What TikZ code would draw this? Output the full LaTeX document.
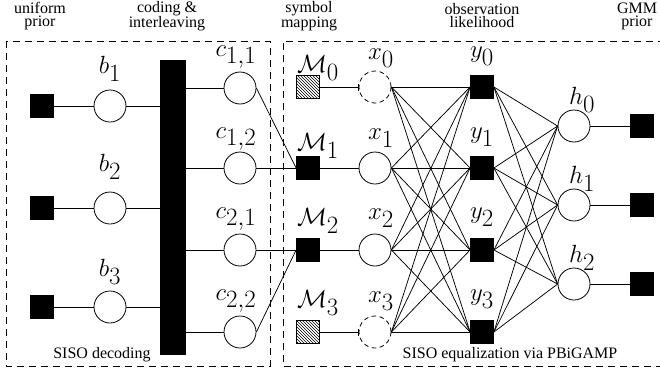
\documentclass[tikz,border=0pt]{standalone}
\usepackage{fontspec}
\setmainfont{Liberation Serif}
\usetikzlibrary{patterns,arrows.meta}
\DeclareMathSizes{31}{31}{24}{18}
\tikzset{
  lbl/.style={font=\fontsize{31}{31}\selectfont, inner sep=0pt},
  txt/.style={font=\fontsize{16}{13}\selectfont, align=center, inner sep=0pt},
  fac/.style={draw, fill=black, minimum size=23pt, inner sep=0pt, line width=0.8pt},
  hfac/.style={draw, pattern=north west lines, minimum size=23pt, inner sep=0pt, line width=0.8pt},
  var/.style={draw, circle, minimum size=32pt, inner sep=0pt, fill=white, line width=0.8pt},
  dvar/.style={var, dash pattern=on 4.5pt off 3.5pt},
  edge/.style={line width=0.75pt},
  box/.style={dash pattern=on 7pt off 5pt, line width=0.8pt}
}
\begin{document}
\begin{tikzpicture}[x=1pt,y=-1pt]
\useasboundingbox (0,0) rectangle (660,375);
% boxes
\draw[box] (6,41) rectangle (270,366);
\draw[box] (665,41) -- (283,41) -- (283,366) -- (665,366);
% top labels
\node[txt] (tup) at (40,16) {uniform\\prior};
\node[txt] (tci) at (167,16) {coding \&\\interleaving};
\node[txt] (tsm) at (309,16) {symbol\\mapping};
\node[txt] (tol) at (482,16) {observation\\likelihood};
\node[txt] (tgp) at (637,16) {GMM\\prior};
\node[txt] (tsd) at (102,355) {SISO decoding};
\node[txt] (tse) at (510,355) {SISO equalization via PBiGAMP};
% uniform priors
\node[fac] (u1) at (42,106) {};
\node[fac] (u2) at (42,208) {};
\node[fac] (u3) at (42,307) {};
% bits
\node[var] (b1) at (110,106) {};
\node[var] (b2) at (110,208) {};
\node[var] (b3) at (110,307) {};
\node[lbl] (lb1) at (110,69) {$b_1$};
\node[lbl] (lb2) at (110,167) {$b_2$};
\node[lbl] (lb3) at (110,272) {$b_3$};
% bar
\node[draw, fill=black, minimum width=25pt, minimum height=294pt, inner sep=0pt] (bar) at (172.5,207) {};
% coded bits
\node[var] (c11) at (240,88) {};
\node[var] (c12) at (240,168) {};
\node[var] (c21) at (240,250) {};
\node[var] (c22) at (240,332) {};
\node[lbl] (lc11) at (236,57) {$c_{1,1}$};
\node[lbl] (lc12) at (236,139) {$c_{1,2}$};
\node[lbl] (lc21) at (236,219) {$c_{2,1}$};
\node[lbl] (lc22) at (236,301) {$c_{2,2}$};
% mapping
\node[hfac] (M0) at (308,87) {};
\node[fac] (M1) at (308,168) {};
\node[fac] (M2) at (308,250) {};
\node[hfac] (M3) at (308,332) {};
\node[lbl] (lM0) at (318,68) {$\mathcal{M}_0$};
\node[lbl] (lM1) at (318,146) {$\mathcal{M}_1$};
\node[lbl] (lM2) at (318,221) {$\mathcal{M}_2$};
\node[lbl] (lM3) at (318,303) {$\mathcal{M}_3$};
% symbols
\node[dvar] (x0) at (375,87) {};
\node[var] (x1) at (375,168) {};
\node[var] (x2) at (375,250) {};
\node[dvar] (x3) at (375,332) {};
\node[lbl] (lx0) at (381,58) {$x_0$};
\node[lbl] (lx1) at (381,138) {$x_1$};
\node[lbl] (lx2) at (381,218) {$x_2$};
\node[lbl] (lx3) at (381,301) {$x_3$};
% observations
\node[fac] (y0) at (482,87) {};
\node[fac] (y1) at (482,168) {};
\node[fac] (y2) at (482,250) {};
\node[fac] (y3) at (482,332) {};
\node[lbl] (ly0) at (482,56) {$y_0$};
\node[lbl] (ly1) at (482,137) {$y_1$};
\node[lbl] (ly2) at (482,217) {$y_2$};
\node[lbl] (ly3) at (482,299) {$y_3$};
% channel
\node[var] (h0) at (574,126) {};
\node[var] (h1) at (574,205) {};
\node[var] (h2) at (574,284) {};
\node[lbl] (lh0) at (582,100) {$h_0$};
\node[lbl] (lh1) at (582,179) {$h_1$};
\node[lbl] (lh2) at (582,258) {$h_2$};
\node[fac] (g0) at (642,126) {};
\node[fac] (g1) at (642,205) {};
\node[fac] (g2) at (642,284) {};
% edges
\foreach \i in {1,2,3} {
  \draw[edge] (u\i) -- (b\i);
  \draw[edge] (b\i) -- (b\i -| bar.west);
}
\foreach \c in {c11,c12,c21,c22} {
  \draw[edge] (bar.east |- \c) -- (\c);
}
\draw[edge] (c11.east) -- (M1.west);
\draw[edge] (c12) -- (M1);
\draw[edge] (c21) -- (M2);
\draw[edge] (c22.east) -- (M2.west);
\draw[edge, -{Bar[width=7pt,line width=0.75pt]}] (M0) -- (x0);
\draw[edge, -{Bar[width=7pt,line width=0.75pt]}] (M3) -- (x3);
\draw[edge] (M1) -- (x1);
\draw[edge] (M2) -- (x2);
\foreach \i in {0,1,2,3} {
  \foreach \j in {0,1,2,3} {
    \draw[edge] (x\i.east) -- (y\j.west);
  }
  \foreach \k in {0,1,2} {
    \draw[edge] (y\i.east) -- (h\k.west);
  }
}
\foreach \k in {0,1,2} {
  \draw[edge] (h\k) -- (g\k);
}
\end{tikzpicture}
\end{document}
